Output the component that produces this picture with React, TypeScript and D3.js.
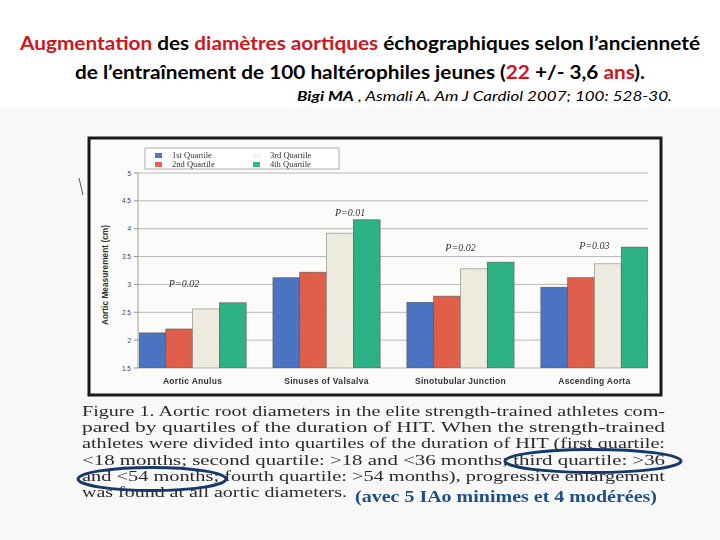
import React from "react";
import * as d3 from "d3";

const categories = ["Aortic Anulus", "Sinuses of Valsalva", "Sinotubular Junction", "Ascending Aorta"];
const seriesNames = ["1st Quartile", "2nd Quartile", "3rd Quartile", "4th Quartile"];
const q1 = [2.13, 3.12, 2.68, 2.95];
const q2 = [2.2, 3.22, 2.79, 3.12];
const q3 = [2.56, 3.92, 3.28, 3.37];
const q4 = [2.67, 4.16, 3.4, 3.67];
const pValues = ["P=0.02", "P=0.01", "P=0.02", "P=0.03"];
const pLevels = [2.95, 4.22, 3.6, 3.64];
const yTicks = [1.5, 2, 2.5, 3, 3.5, 4, 4.5, 5];
const colors = ["#4e79c9", "#e8634d", "#f7f5e8", "#2fb98b"];
const captionLines = [
  "Figure 1. Aortic root diameters in the elite strength-trained athletes com-",
  "pared by quartiles of the duration of HIT. When the strength-trained",
  "athletes were divided into quartiles of the duration of HIT (first quartile:",
  "<18 months; second quartile: >18 and <36 months; third quartile: >36",
  "and <54 months; fourth quartile: >54 months), progressive enlargement",
  "was found at all aortic diameters.",
];

export default function App() {
  const series = [q1, q2, q3, q4];
  const x0 = d3.scaleBand<string>().domain(categories).range([139, 648]).paddingInner(0.2).paddingOuter(0);
  const x1 = d3.scaleBand<number>().domain([0, 1, 2, 3]).range([0, x0.bandwidth()]).padding(0);
  const y = d3.scaleLinear().domain([1.5, 5]).range([368, 173]);
  const titleFont = "Lato, 'Open Sans', sans-serif";
  const serif = "'Liberation Serif', 'DejaVu Serif', serif";
  return (
    <svg width={720} height={540} style={{ position: "absolute", left: 0, top: 0 }}>
      <defs>
        <filter id="grain" x="0" y="0" width="100%" height="100%">
          <feTurbulence type="fractalNoise" baseFrequency="0.9" numOctaves={1} seed={3} result="n" />
          <feColorMatrix in="n" type="saturate" values="0" result="g" />
          <feComponentTransfer in="g" result="g2">
            <feFuncA type="linear" slope="0.35" />
          </feComponentTransfer>
          <feComposite in="g2" in2="SourceGraphic" operator="in" result="gm" />
          <feBlend in="SourceGraphic" in2="gm" mode="multiply" />
        </filter>
      </defs>
      <rect x={0} y={0} width={720} height={540} fill="#ffffff" />
      <rect x={0} y={107} width={720} height={433} fill="#f8f8f8" />

      {/* Title */}
      <text x={360} y={50} textAnchor="middle" fontFamily={titleFont} fontWeight={700} fontSize={19.5}
        textLength={680} lengthAdjust="spacingAndGlyphs">
        <tspan fill="#d0161c">Augmentation</tspan>
        <tspan fill="#000"> des </tspan>
        <tspan fill="#d0161c">diamètres aortiques</tspan>
        <tspan fill="#000"> échographiques selon l’ancienneté</tspan>
      </text>
      <text x={360} y={79} textAnchor="middle" fontFamily={titleFont} fontWeight={700} fontSize={19.5}
        textLength={570} lengthAdjust="spacingAndGlyphs">
        <tspan fill="#000">de l’entraînement de 100 haltérophiles jeunes (</tspan>
        <tspan fill="#d0161c">22</tspan>
        <tspan fill="#000"> +/- 3,6 </tspan>
        <tspan fill="#d0161c">ans</tspan>
        <tspan fill="#000">).</tspan>
      </text>
      <text x={297} y={101} fontFamily={titleFont} fontStyle="italic" fontSize={14} fill="#000"
        textLength={375} lengthAdjust="spacingAndGlyphs">
        <tspan fontWeight={700}>Bigi MA</tspan>
        <tspan> , Asmali A. Am J Cardiol 2007; 100: 528-30.</tspan>
      </text>

      {/* small artifact */}
      <line x1={79} y1={178} x2={83} y2={195} stroke="#555" strokeWidth={1} />

      {/* Chart frame */}
      <rect x={89} y={138} width={572} height={257} fill="#fbfbf9" stroke="#1a1a1a" strokeWidth={3} />

      {/* gridlines */}
      {yTicks.map((t) => (
        <g key={t}>
          <line x1={138} x2={648} y1={y(t)} y2={y(t)} stroke="#a8a8a8" strokeWidth={0.8} />
          <line x1={134} x2={138} y1={y(t)} y2={y(t)} stroke="#777" strokeWidth={0.8} />
          <text x={131} y={y(t) + 2.5} textAnchor="end" fontFamily="'Liberation Sans', sans-serif" fontSize={6.5} fill="#444">
            {t}
          </text>
        </g>
      ))}
      <line x1={138} x2={138} y1={y(5)} y2={y(1.5)} stroke="#888" strokeWidth={0.8} />

      {/* bars */}
      <g filter="url(#grain)">
        {categories.map((c, ci) => (
          <g key={c} transform={`translate(${x0(c)},0)`}>
            {series.map((s, si) => (
              <rect key={si} x={x1(si)} y={y(s[ci])} width={x1.bandwidth()} height={y(1.5) - y(s[ci])}
                fill={colors[si]} stroke={si === 2 ? "#8a8a80" : "#5a5a5a"} strokeWidth={0.6} />
            ))}
          </g>
        ))}
      </g>

      {/* p labels */}
      {categories.map((c, ci) => (
        <text key={c} x={(x0(c) as number) + x0.bandwidth() * (ci === 0 ? 0.42 : ci === 3 ? 0.5 : ci === 1 ? 0.72 : 0.5)}
          y={y(pLevels[ci])} textAnchor="middle" fontFamily={serif} fontStyle="italic"
          fontSize={10} fill="#333">
          {pValues[ci]}
        </text>
      ))}

      {/* category labels */}
      {categories.map((c) => (
        <text key={c} x={(x0(c) as number) + x0.bandwidth() / 2} y={384} textAnchor="middle"
          fontFamily="'Liberation Sans', sans-serif" fontWeight={700} fontSize={8.5} fill="#333" letterSpacing={0.3}>
          {c}
        </text>
      ))}

      {/* y label */}
      <text transform="translate(108,275) rotate(-90)" textAnchor="middle" fontFamily="'Liberation Sans', sans-serif"
        fontWeight={700} fontSize={9} fill="#333" textLength={100} lengthAdjust="spacingAndGlyphs">
        Aortic Measurement (cm)
      </text>

      {/* legend */}
      <rect x={145} y={148} width={194} height={21} fill="#fff" stroke="#999" strokeWidth={0.8} />
      {seriesNames.map((n, i) => {
        const col = i < 2 ? 0 : 1;
        const row = i % 2;
        const lx = col === 0 ? 155 : 253;
        const ly = 153 + row * 9;
        return (
          <g key={n}>
            <rect x={lx} y={ly} width={7} height={5} fill={colors[i]} stroke={i === 2 ? "#eee" : "none"} strokeWidth={0.5} />
            <text x={lx + 17} y={ly + 5} fontFamily={serif} fontSize={8.5} fill="#333">
              {n}
            </text>
          </g>
        );
      })}

      {/* caption */}
      {captionLines.map((l, i) => (
        <text key={i} x={82} y={416 + i * 16.2} fontFamily={serif} fontSize={15}
          fill="#2a2a2a" textLength={i < 5 ? 583 : 265} lengthAdjust="spacingAndGlyphs"
          style={{ whiteSpace: "pre" }}>
          {l}
        </text>
      ))}

      {/* annotation */}
      <text x={355} y={502} fontFamily={serif} fontWeight={700} fontSize={16}
        fill="#1f4e8c" textLength={302} lengthAdjust="spacingAndGlyphs">
        (avec 5 IAo minimes et 4 modérées)
      </text>
      <ellipse cx={152} cy={479} rx={74} ry={11.5} fill="none" stroke="#16386a" strokeWidth={3} />
      <ellipse cx={593} cy={461} rx={88} ry={11.5} fill="none" stroke="#16386a" strokeWidth={3} />
    </svg>
  );
}
